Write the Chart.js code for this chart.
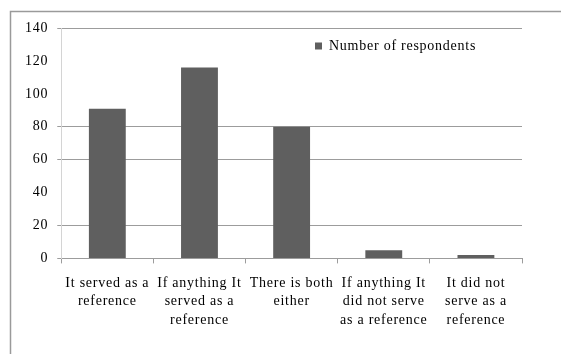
<!DOCTYPE html>
<html>
<head>
<meta charset="utf-8">
<script src="https://cdn.jsdelivr.net/npm/chart.js@4"></script>
<style>
  html, body { margin: 0; padding: 0; background: #fff; }
  #wrap { width: 561px; height: 354px; position: relative; }
  .fontprobe { position: absolute; left: -9999px; font-family: "Liberation Serif"; }
</style>
</head>
<body>
<span class="fontprobe">Number of respondents 0123456789</span>
<div id="wrap"><canvas id="chart"></canvas></div>
<script>
// Survey answers and respondent counts
const categories = [
  ['It served as a', 'reference'],
  ['If anything It', 'served as a', 'reference'],
  ['There is both', 'either'],
  ['If anything It', 'did not serve', 'as a reference'],
  ['It did not', 'serve as a', 'reference']
];
const respondents = [91, 116, 80, 5, 2];
const seriesName = 'Number of respondents';
const yTicks = [0, 20, 40, 60, 80, 100, 120, 140];

const SERIF = '"Liberation Serif", "Times New Roman", Times, serif';
const BAR_GREY = '#5f5f5f';
const GRID_GREY = '#9c9c9c';
const LETTER_SPACING = '0.75px';
// gridlines that are left out of the value axis
const hiddenGrid = [40, 100, 120];

// Slightly wider text tracking for every label
const trackingPlugin = {
  id: 'tracking',
  beforeUpdate(chart) { chart.ctx.letterSpacing = LETTER_SPACING; },
  beforeDraw(chart) { chart.ctx.letterSpacing = LETTER_SPACING; }
};

// Outer frame around the chart object
const framePlugin = {
  id: 'frame',
  beforeDraw(chart) {
    const ctx = chart.ctx;
    ctx.save();
    ctx.strokeStyle = '#9a9a9a';
    ctx.lineWidth = 1.5;
    ctx.strokeRect(10.5, 11.5, chart.width + 20, chart.height + 20);
    ctx.restore();
  }
};

// Places the legend inside the plot, towards its upper right
const legendPlacePlugin = {
  id: 'legendPlace',
  afterLayout(chart) {
    const lg = chart.legend;
    if (!lg) return;
    const area = chart.chartArea;
    const w = lg.width, h = lg.height;
    lg.left = area.right - 217;
    lg.top = area.top + 1;
    lg.right = lg.left + w;
    lg.bottom = lg.top + h;
  }
};

function build() {
  new Chart(document.getElementById('chart'), {
    type: 'bar',
    data: {
      labels: categories,
      datasets: [{
        label: seriesName,
        data: respondents,
        backgroundColor: BAR_GREY,
        borderWidth: 0,
        categoryPercentage: 1.0,
        barPercentage: 0.4
      }]
    },
    options: {
      responsive: true,
      maintainAspectRatio: false,
      animation: false,
      layout: { padding: { top: 28, right: 39, left: 16, bottom: 14 } },
      plugins: {
        title: { display: false },
        tooltip: { enabled: false },
        legend: {
          position: 'chartArea',
          align: 'start',
          maxHeight: 40,
          labels: {
            color: '#000',
            font: { family: SERIF, size: 14 },
            boxWidth: 7,
            boxHeight: 7,
            padding: 10
          }
        }
      },
      scales: {
        x: {
          offset: true,
          grid: {
            offset: true,
            drawOnChartArea: false,
            drawTicks: true,
            tickLength: 5,
            color: GRID_GREY
          },
          border: { display: true, color: GRID_GREY, width: 1 },
          ticks: {
            color: '#000',
            font: { family: SERIF, size: 14, lineHeight: 1.3 },
            padding: 11,
            maxRotation: 0,
            autoSkip: false
          }
        },
        y: {
          min: 0,
          max: 140,
          afterBuildTicks(scale) {
            scale.ticks = yTicks.map(v => ({ value: v }));
          },
          grid: {
            color: ctx => (ctx.tick && hiddenGrid.includes(ctx.tick.value)) ? 'rgba(0,0,0,0)' : GRID_GREY,
            lineWidth: 1,
            tickLength: 4,
            drawTicks: true
          },
          border: { display: true, color: '#d4d4d4', width: 1 },
          ticks: {
            color: '#000',
            font: { family: SERIF, size: 14 },
            padding: 9
          }
        }
      }
    },
    plugins: [trackingPlugin, framePlugin, legendPlacePlugin]
  });
}

if (document.fonts && document.fonts.load) {
  document.fonts.load('14px "Liberation Serif"').then(build, build);
} else {
  build();
}
</script>
</body>
</html>
